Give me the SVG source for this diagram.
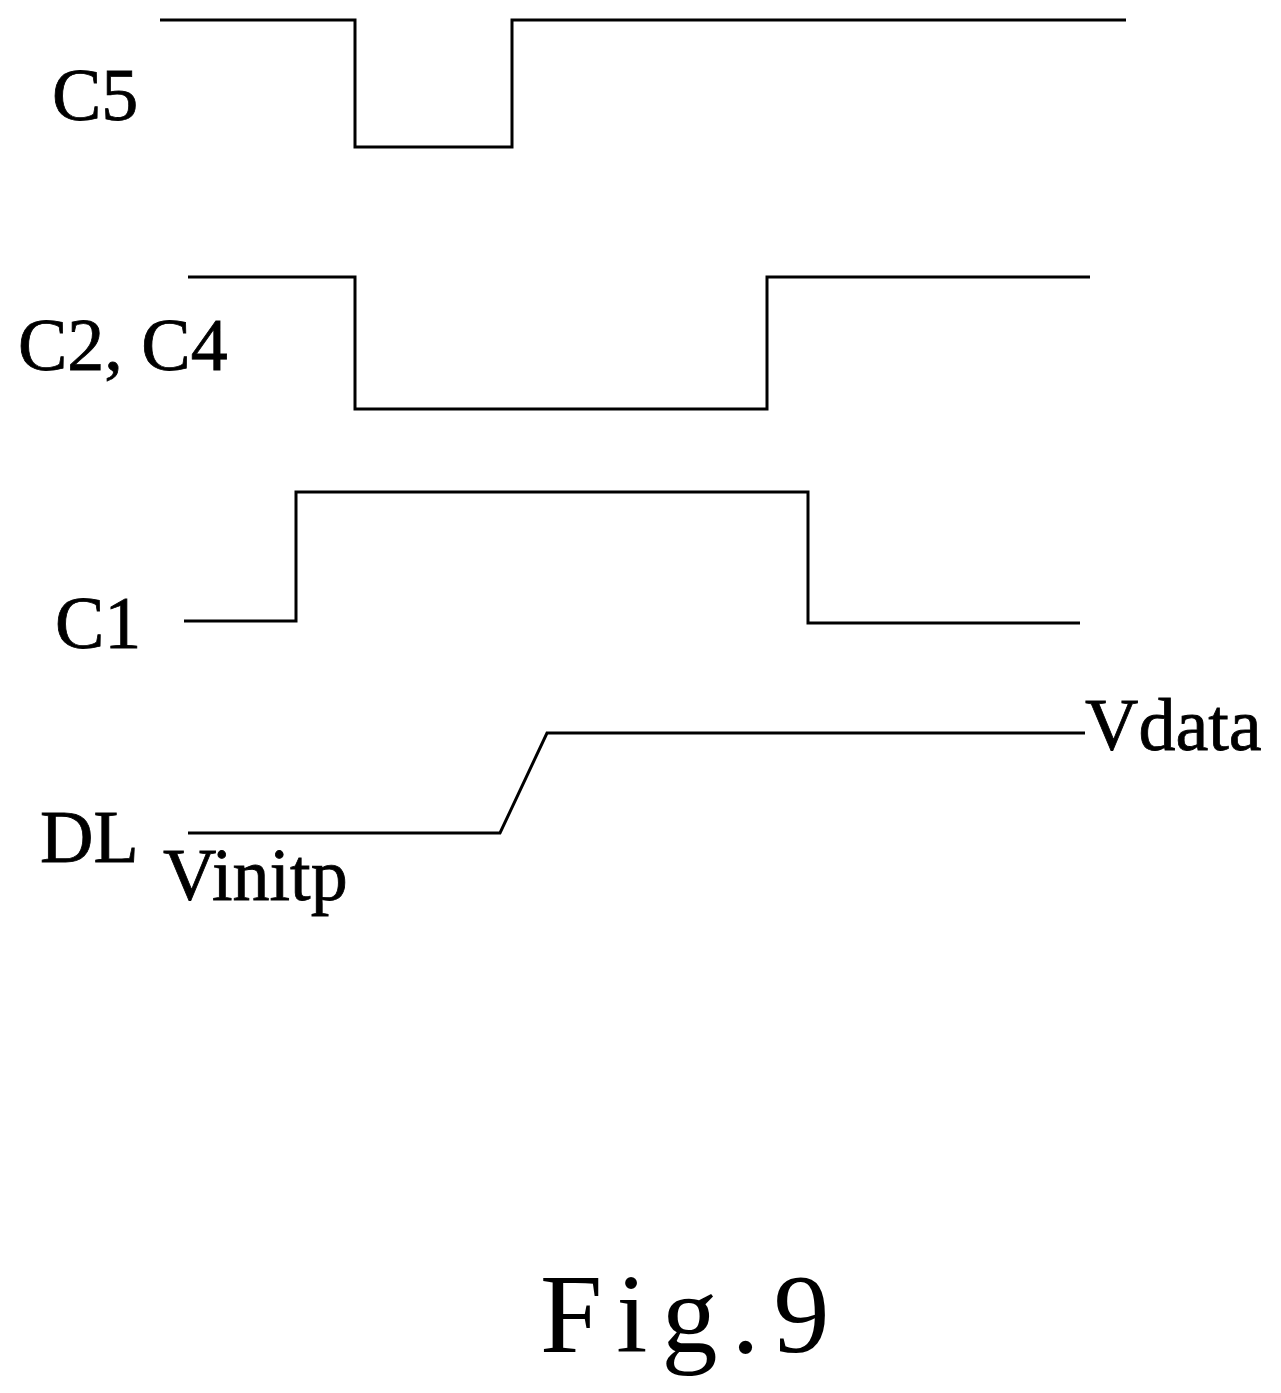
<svg xmlns="http://www.w3.org/2000/svg" width="1281" height="1393" viewBox="0 0 1281 1393">
<style>
.w{fill:none;stroke:#000;stroke-width:3}
.t{font-family:"Liberation Serif",serif;font-size:74px;fill:#000;stroke:#000;stroke-width:0.8}
</style>
<rect width="1281" height="1393" fill="#fff"/>
<g id="C5"><path class="w" d="M160 20H355V147H512V20H1126"/><text class="t" x="52" y="120">C5</text></g>
<g id="C2C4"><path class="w" d="M188 277H355V409H767V277H1090"/><text class="t" x="18" y="370">C2, C4</text></g>
<g id="C1"><path class="w" d="M184 621H296V492H808V623H1080"/><text class="t" x="55" y="648">C1</text></g>
<g id="DL"><path class="w" d="M188 833H500L547 733H1085"/><text class="t" x="40" y="862">DL</text><text class="t" x="163" y="900">Vinitp</text><text class="t" x="1085" y="750">Vdata</text></g>
<text x="540" y="1352" font-family="'Liberation Serif',serif" font-size="112" letter-spacing="14" fill="#000">Fig.9</text>
</svg>
